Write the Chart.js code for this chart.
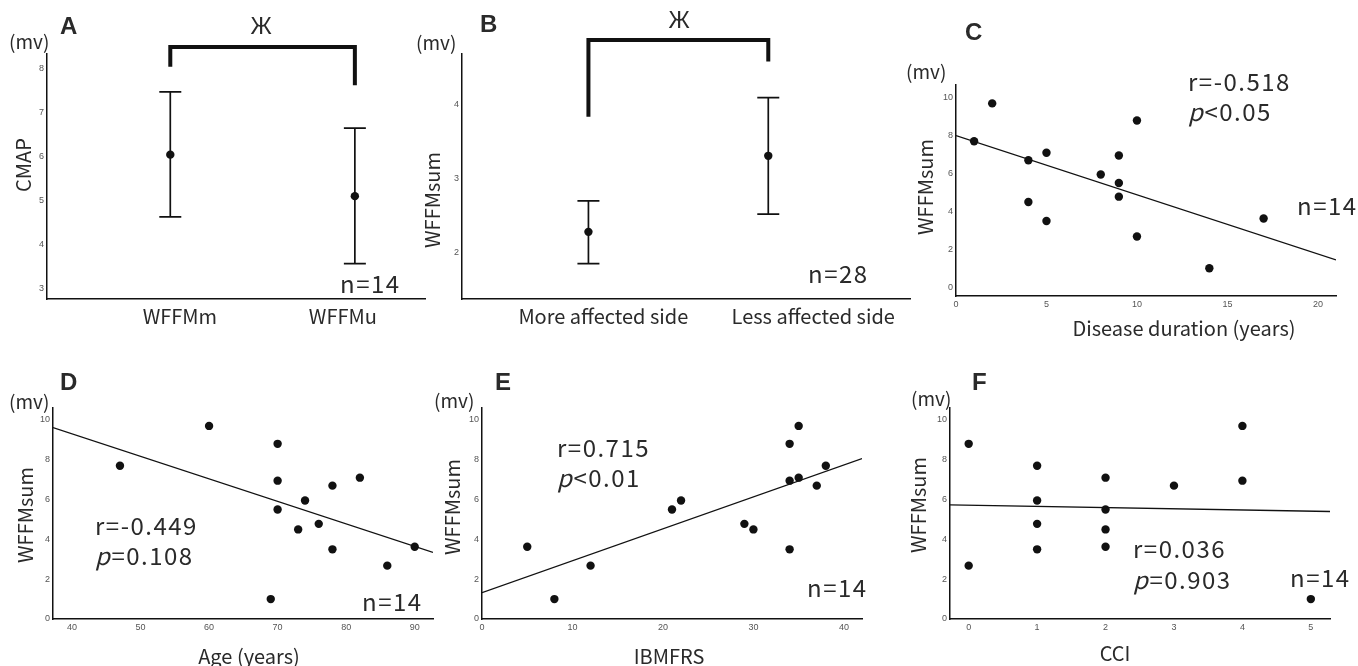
<!DOCTYPE html>
<html>
<head>
<meta charset="utf-8">
<script src="https://cdn.jsdelivr.net/npm/chart.js@4.4.1/dist/chart.umd.min.js"></script>
<style>
  html, body { margin: 0; padding: 0; background: #fff; }
  #wrap { position: relative; width: 1358px; height: 666px; overflow: hidden; }
  #wrap canvas { position: absolute; left: 0; top: 0; }
</style>
</head>
<body>
<div id="wrap">
  <canvas id="chartA" width="1358" height="666"></canvas>
  <canvas id="chartB" width="1358" height="666"></canvas>
  <canvas id="chartC" width="1358" height="666"></canvas>
  <canvas id="chartD" width="1358" height="666"></canvas>
  <canvas id="chartE" width="1358" height="666"></canvas>
  <canvas id="chartF" width="1358" height="666"></canvas>
</div>
<script>
// A - CMAP, mean with error bars
const catA = ['WFFMm', 'WFFMu'];
const meanA = [6.04, 5.10];
const lowA = [4.63, 3.57];
const highA = [7.46, 6.64];
const bracketA = [8.03, 8.48, 8.48, 7.61];
const yTicksA = [3, 4, 5, 6, 7, 8];

// B - WFFMsum by side
const catB = ['More affected side', 'Less affected side'];
const meanB = [2.28, 3.31];
const lowB = [1.85, 2.52];
const highB = [2.70, 4.10];
const bracketB = [3.84, 4.88, 4.88, 4.59];
const yTicksB = [2, 3, 4];

// C-F - one entry per patient (n=14)
const wffmSum = [7.7, 9.7, 1.0, 8.8, 6.95, 5.5, 4.5, 5.95, 4.78, 6.7, 3.5, 7.1, 2.68, 3.63];
const duration = [1, 2, 14, 10, 9, 9, 4, 8, 9, 4, 5, 5, 10, 17];
const age = [47, 60, 69, 70, 70, 70, 73, 74, 76, 78, 78, 82, 86, 90];
const ibmfrs = [38, 35, 8, 34, 34, 21, 30, 22, 29, 37, 34, 35, 12, 5];
const cci = [1, 4, 5, 0, 4, 2, 2, 1, 1, 3, 1, 2, 0, 2];

// regression lines, read where they meet the axis ends
const fitC = [[0, 8.0], [21, 1.44]];
const fitD = [[37.23, 9.62], [92.67, 3.35]];
const fitE = [[0, 1.32], [42, 8.06]];
const fitF = [[-0.273, 5.73], [5.28, 5.40]];

const wffmTicks = [0, 2, 4, 6, 8, 10];
const durationTicks = [0, 5, 10, 15, 20];
const ageTicks = [40, 50, 60, 70, 80, 90];
const ibmfrsTicks = [0, 10, 20, 30, 40];
const cciTicks = [0, 1, 2, 3, 4, 5];

const W = 1358, H = 666;
const Y_AXIS_W = 30;
const FAM = '"Noto Sans CJK JP", "Noto Sans", sans-serif';
const INK = '#111';
const TXT = '#2a2a2a';

const textPlugin = {
    id: 'panelText',
    afterDraw(chart, args, opts) {
        const ctx = chart.ctx;
        (opts.items || []).forEach(it => {
            ctx.save();
            ctx.fillStyle = TXT;
            ctx.textBaseline = 'middle';
            ctx.letterSpacing = it.spacing || '0px';
            ctx.translate(it.x, it.y);
            if (it.rotate) ctx.rotate(it.rotate);
            const size = it.size || 20;
            const normal = (it.bold ? 'bold ' : '') + size + 'px ' + (it.family || FAM);
            let head = '', rest = it.text;
            if (it.italicP) { head = rest[0]; rest = rest.slice(1); }
            const italic = 'italic ' + size + 'px ' + FAM;
            ctx.font = italic;
            const hw = head ? ctx.measureText(head).width : 0;
            ctx.font = normal;
            const total = hw + ctx.measureText(rest).width;
            let x0 = 0;
            if (it.align === 'center') x0 = -total / 2;
            ctx.textAlign = 'left';
            if (head) {
                ctx.font = italic;
                ctx.fillText(head, x0, 0);
                ctx.font = normal;
            }
            ctx.fillText(rest, x0 + hw, 0);
            ctx.restore();
        });
    }
};

const errorBarPlugin = {
    id: 'errorBars',
    beforeDatasetsDraw(chart, args, opts) {
        if (!opts.low) return;
        const { ctx, scales: { x, y } } = chart;
        ctx.save();
        ctx.strokeStyle = INK;
        ctx.lineWidth = 1.7;
        opts.low.forEach((lo, i) => {
            const px = x.getPixelForValue(i + 1);
            const y0 = y.getPixelForValue(lo);
            const y1 = y.getPixelForValue(opts.high[i]);
            ctx.beginPath();
            ctx.moveTo(px, y0); ctx.lineTo(px, y1);
            ctx.moveTo(px - 11, y0); ctx.lineTo(px + 11, y0);
            ctx.moveTo(px - 11, y1); ctx.lineTo(px + 11, y1);
            ctx.stroke();
        });
        ctx.restore();
    }
};

function axis(min, max, ticks, fit, tickOpts) {
    return {
        type: 'linear', min, max,
        grid: { color: 'rgba(0,0,0,0)', drawTicks: false },
        border: { color: INK, width: 1.5 },
        afterBuildTicks: s => { s.ticks = ticks.map(v => ({ value: v })); },
        afterFit: fit,
        ticks: Object.assign({
            autoSkip: false, maxRotation: 0,
            font: { family: 'Liberation Sans', size: 9 }, color: '#555', padding: 3
        }, tickOpts || {})
    };
}

function makePanel(id, box, xAxisH, xScale, yScale, datasets, items, errOpts) {
    const ctx = document.getElementById(id).getContext('2d');
    xScale.afterFit = s => { s.height = xAxisH; };
    yScale.afterFit = s => { s.width = Y_AXIS_W; };
    return new Chart(ctx, {
        type: 'scatter',
        data: { datasets },
        options: {
            responsive: false,
            animation: false,
            devicePixelRatio: 1,
            events: [],
            layout: {
                autoPadding: false,
                padding: {
                    left: box.left - Y_AXIS_W,
                    top: box.top,
                    right: W - box.right,
                    bottom: H - box.bottom - xAxisH
                }
            },
            plugins: {
                legend: { display: false },
                tooltip: { enabled: false },
                panelText: { items },
                errorBars: errOpts || {}
            },
            scales: { x: xScale, y: yScale }
        },
        plugins: [textPlugin, errorBarPlugin]
    });
}

function pts(xs, ys) {
    return xs.map((v, i) => ({ x: v, y: ys[i] }));
}

function dots(data) {
    return { data, pointRadius: 4.2, backgroundColor: INK, borderWidth: 0, order: 0 };
}

function fitLine(fit) {
    return {
        data: fit.map(([x, y]) => ({ x, y })), showLine: true, pointRadius: 0,
        borderColor: INK, borderWidth: 1.3, order: 1
    };
}

function bracket(vals) {
    return {
        data: [1, 1, 2, 2].map((x, i) => ({ x, y: vals[i] })), showLine: true, pointRadius: 0,
        borderColor: INK, borderWidth: 4, borderJoinStyle: 'miter', clip: false, order: 2
    };
}

// category names sit a little off the marker columns in the original
function catAxis(min, max, labels, labelAt) {
    const a = axis(min, max, labelAt, null, {
        callback: (v, i) => labels[i] || '',
        font: { family: FAM, size: 20 }, color: TXT, padding: 5
    });
    return a;
}

const ROT = -Math.PI / 2;
const SP = '1.5px';

// A
makePanel('chartA', { left: 47, top: 54, right: 425, bottom: 299 }, 40,
    catAxis(0.332, 2.38, catA, [1.052, 1.935]),
    axis(2.77, 8.32, yTicksA),
    [dots(pts([1, 2], meanA)), bracket(bracketA)],
    [
        { text: 'A', x: 60, y: 27, size: 24, bold: true, family: 'Liberation Sans' },
        { text: '(mv)', x: 9, y: 42, size: 19 },
        { text: 'Ж', x: 261, y: 28, size: 23, align: 'center', family: 'Liberation Sans' },
        { text: 'CMAP', x: 23, y: 165, size: 20, rotate: ROT, align: 'center' },
        { text: 'n=14', x: 340, y: 284, size: 24, spacing: SP }
    ],
    { low: lowA, high: highA });

// B
makePanel('chartB', { left: 462, top: 54, right: 910, bottom: 299 }, 42,
    catAxis(0.297, 2.788, catB, [1.083, 2.25]),
    axis(1.37, 4.69, yTicksB),
    [dots(pts([1, 2], meanB)), bracket(bracketB)],
    [
        { text: 'B', x: 480, y: 25, size: 24, bold: true, family: 'Liberation Sans' },
        { text: '(mv)', x: 416, y: 43, size: 19 },
        { text: 'Ж', x: 679, y: 22, size: 23, align: 'center', family: 'Liberation Sans' },
        { text: 'WFFMsum', x: 432, y: 200, size: 20, rotate: ROT, align: 'center' },
        { text: 'n=28', x: 808, y: 274, size: 24, spacing: SP }
    ],
    { low: lowB, high: highB });

// C
makePanel('chartC', { left: 956, top: 85, right: 1336, bottom: 296 }, 20,
    axis(0, 21, durationTicks),
    axis(-0.46, 10.67, wffmTicks),
    [dots(pts(duration, wffmSum)), fitLine(fitC)],
    [
        { text: 'C', x: 965, y: 33, size: 24, bold: true, family: 'Liberation Sans' },
        { text: '(mv)', x: 906, y: 72, size: 19 },
        { text: 'WFFMsum', x: 925, y: 187, size: 20, rotate: ROT, align: 'center' },
        { text: 'r=-0.518', x: 1188, y: 82, size: 24, spacing: SP },
        { text: 'p<0.05', x: 1188, y: 112, size: 24, italicP: true, spacing: SP },
        { text: 'n=14', x: 1297, y: 206, size: 24, spacing: SP },
        { text: 'Disease duration (years)', x: 1184, y: 328, size: 20, align: 'center' }
    ]);

// D
makePanel('chartD', { left: 53, top: 408, right: 433, bottom: 619 }, 20,
    axis(37.23, 92.67, ageTicks),
    axis(0, 10.6, wffmTicks),
    [dots(pts(age, wffmSum)), fitLine(fitD)],
    [
        { text: 'D', x: 60, y: 383, size: 24, bold: true, family: 'Liberation Sans' },
        { text: '(mv)', x: 9, y: 402, size: 19 },
        { text: 'WFFMsum', x: 25, y: 515, size: 20, rotate: ROT, align: 'center' },
        { text: 'r=-0.449', x: 95, y: 526, size: 24, spacing: SP },
        { text: 'p=0.108', x: 95, y: 556, size: 24, italicP: true, spacing: SP },
        { text: 'n=14', x: 362, y: 602, size: 24, spacing: SP },
        { text: 'Age (years)', x: 249, y: 656, size: 20, align: 'center' }
    ]);

// E
makePanel('chartE', { left: 482, top: 408, right: 862, bottom: 619 }, 20,
    axis(0, 42, ibmfrsTicks),
    axis(0, 10.6, wffmTicks),
    [dots(pts(ibmfrs, wffmSum)), fitLine(fitE)],
    [
        { text: 'E', x: 495, y: 383, size: 24, bold: true, family: 'Liberation Sans' },
        { text: '(mv)', x: 434, y: 401, size: 19 },
        { text: 'WFFMsum', x: 452, y: 507, size: 20, rotate: ROT, align: 'center' },
        { text: 'r=0.715', x: 557, y: 448, size: 24, spacing: SP },
        { text: 'p<0.01', x: 557, y: 478, size: 24, italicP: true, spacing: SP },
        { text: 'n=14', x: 807, y: 588, size: 24, spacing: SP },
        { text: 'IBMFRS', x: 669, y: 656, size: 20, align: 'center' }
    ]);

// F
makePanel('chartF', { left: 950, top: 408, right: 1330, bottom: 619 }, 20,
    axis(-0.273, 5.28, cciTicks),
    axis(0, 10.6, wffmTicks),
    [dots(pts(cci, wffmSum)), fitLine(fitF)],
    [
        { text: 'F', x: 972, y: 383, size: 24, bold: true, family: 'Liberation Sans' },
        { text: '(mv)', x: 911, y: 399, size: 19 },
        { text: 'WFFMsum', x: 918, y: 505, size: 20, rotate: ROT, align: 'center' },
        { text: 'r=0.036', x: 1133, y: 549, size: 24, spacing: SP },
        { text: 'p=0.903', x: 1133, y: 580, size: 24, italicP: true, spacing: SP },
        { text: 'n=14', x: 1290, y: 578, size: 24, spacing: SP },
        { text: 'CCI', x: 1115, y: 653, size: 20, align: 'center' }
    ]);
</script>
</body>
</html>
